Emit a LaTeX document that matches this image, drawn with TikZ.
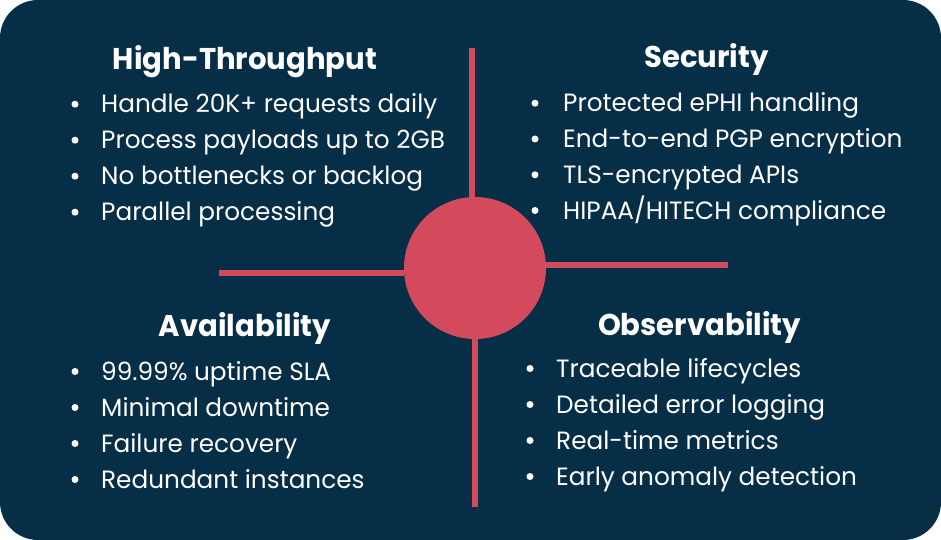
\documentclass[tikz,border=0pt]{standalone}
\usepackage{fontspec}
\setmainfont[FakeStretch=0.99]{Poppins}
\newfontfamily\ttlfont[FakeStretch=0.97]{Poppins}
\definecolor{navy}{RGB}{6,46,70}
\definecolor{rose}{RGB}{210,74,92}
\tikzset{
  body/.style={text=white, font=\fontsize{25}{30}\selectfont, anchor=base west, inner sep=0pt},
  ttl/.style={text=white, font=\ttlfont\fontsize{30}{36}\selectfont\bfseries, anchor=base, inner sep=0pt},
  dot/.style={circle, fill=white, minimum size=7pt, inner sep=0pt},
  bar/.style={rose, line width=6pt},
}
\newcommand{\myitem}[5]{%
  \node[dot] (#1b) at (#2,#4-8.5) {};
  \node[body] (#1) at (#3,#4) {#5};}
\begin{document}
\begin{tikzpicture}[x=1pt,y=-1pt]
\useasboundingbox (0,0) rectangle (941,540);
\fill[navy, rounded corners=38pt] (0,0) rectangle (941,540);
% hub and cross
\node[circle, fill=rose, minimum size=142pt, inner sep=0pt] (hub) at (475,268) {};
\coordinate (vt) at (472.3,48);
\coordinate (vb) at (475.3,507);
\coordinate (hl) at (219,272.7);
\coordinate (hr) at (728,265.3);
\draw[bar] (vt) -- (vt |- hub.north);
\draw[bar] (vb) -- (vb |- hub.south);
\draw[bar] (hl) -- (hub.west |- hl);
\draw[bar] (hr) -- (hub.east |- hr);
% titles
\node[ttl] (t1) at (245,69.3) {High-Throughput};
\node[ttl] (t2) at (706.5,67.5) {Security};
\node[ttl] (t3) at (245,336) {Availability};
\node[ttl] (t4) at (699.5,335) {Observability};
% lists
\myitem{a1}{75}{101}{112.7}{Handle 20K+ requests daily}
\myitem{a2}{75}{101}{148.7}{Process payloads up to 2GB}
\myitem{a3}{75}{101}{184.7}{No bottlenecks or backlog}
\myitem{a4}{75}{101}{220.7}{Parallel processing}
\myitem{b1}{535}{563}{111.7}{Protected ePHI handling}
\myitem{b2}{535}{563}{147.5}{End-to-end PGP encryption}
\myitem{b3}{535}{563}{183.3}{TLS-encrypted APIs}
\myitem{b4}{535}{563}{219}{HIPAA/HITECH compliance}
\myitem{c1}{75}{101}{380}{99.99\% uptime SLA}
\myitem{c2}{75}{101}{416}{Minimal downtime}
\myitem{c3}{75}{101}{452}{Failure recovery}
\myitem{c4}{75}{101}{488}{Redundant instances}
\myitem{d1}{530}{556}{377}{Traceable lifecycles}
\myitem{d2}{530}{556}{413}{Detailed error logging}
\myitem{d3}{530}{556}{449}{Real-time metrics}
\myitem{d4}{530}{556}{485}{Early anomaly detection}
\end{tikzpicture}
\end{document}
